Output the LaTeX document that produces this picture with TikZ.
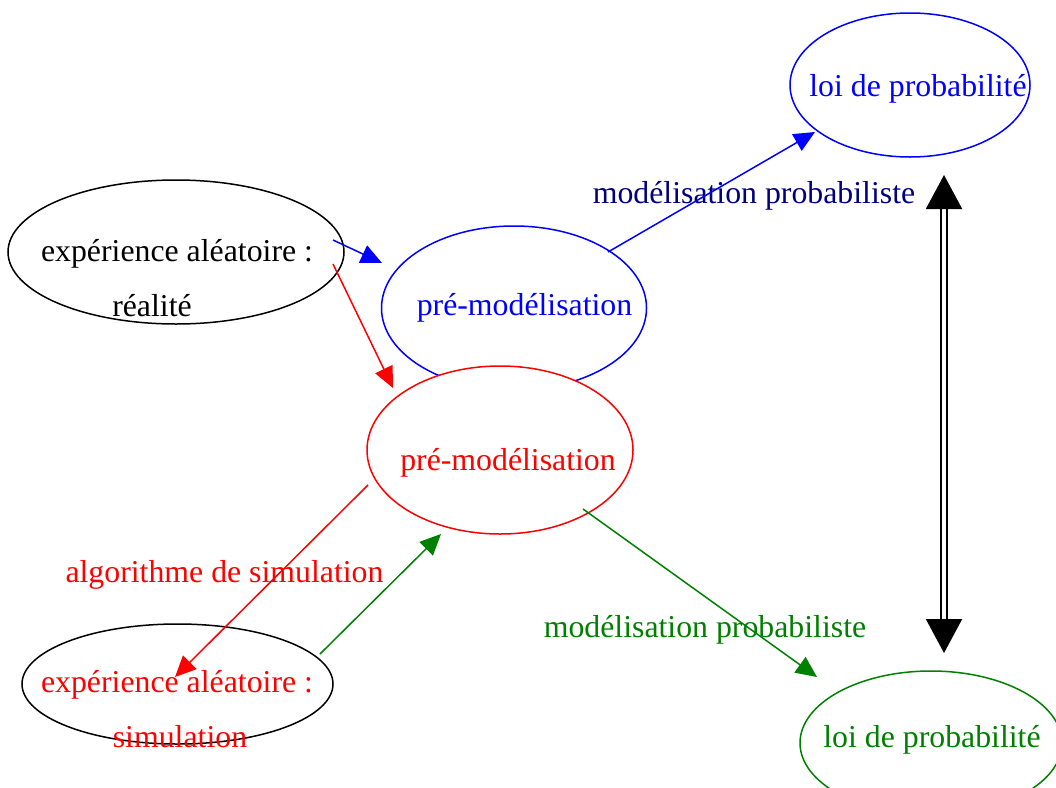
\documentclass[tikz,border=0pt]{standalone}
\usepackage{fontspec}
\setmainfont{Liberation Serif}
\usetikzlibrary{shapes.geometric,arrows.meta}
\definecolor{dgreen}{RGB}{0,128,0}
\definecolor{navyc}{RGB}{0,0,128}
\tikzset{
  oval/.style={draw, ellipse, line width=1.5pt, inner sep=0pt, outer sep=0pt, fill=white},
  lbl/.style={anchor=base, inner sep=0pt, font=\fontsize{31.8}{36}\selectfont},
  arr/.style={line width=1.5pt, -{Triangle[length=21pt,width=19pt]}},
  dbl/.style={double, double distance=4pt, line width=2pt, {Triangle[length=34pt,width=36pt]}-{Triangle[length=34pt,width=36pt]}}
}
\begin{document}
\begin{tikzpicture}[x=1pt,y=-1pt]
\useasboundingbox (0,0) rectangle (1056,787);
\clip (0,0) rectangle (1056,787);
% ellipses
\node[oval, draw=black, minimum width=336pt, minimum height=144pt] (real) at (176,252) {};
\node[oval, draw=blue, minimum width=265pt, minimum height=164pt] (preb) at (514,308) {};
\node[oval, draw=red, minimum width=266pt, minimum height=168pt] (prer) at (500,450) {};
\node[oval, draw=black, minimum width=311pt, minimum height=120pt] (sim) at (177.5,684) {};
\node[oval, draw=blue, minimum width=240pt, minimum height=144pt] (loib) at (910,85) {};
\node[oval, draw=dgreen, minimum width=262pt, minimum height=144pt] (loig) at (931,743) {};
% texts
\node[lbl, text=black] (treal1) at (177,261) {expérience aléatoire :};
\node[lbl, text=black] (treal2) at (152,316) {réalité};
\node[lbl, text=blue] (tpreb) at (524.5,315) {pré-modélisation};
\node[lbl, text=red] (tprer) at (508,470) {pré-modélisation};
\node[lbl, text=red] (tsim1) at (177,692) {expérience aléatoire :};
\node[lbl, text=red] (tsim2) at (180,747) {simulation};
\node[lbl, text=blue] (tloib) at (918,96) {loi de probabilité};
\node[lbl, text=dgreen] (tloig) at (932,747) {loi de probabilité};
\node[lbl, text=navyc] (lmodb) at (754,203) {modélisation probabiliste};
\node[lbl, text=red] (lalgo) at (224.5,582) {algorithme de simulation};
\node[lbl, text=dgreen] (lmodg) at (705,637) {modélisation probabiliste};
% connector ends
\coordinate (a1s) at (333,240); \coordinate (a1e) at (382,263);
\coordinate (a2s) at (333,264); \coordinate (a2e) at (393,388);
\coordinate (a3s) at (608,252); \coordinate (a3e) at (815,132);
\coordinate (a4s) at (368,485); \coordinate (a4e) at (175,677);
\coordinate (a5s) at (320,654); \coordinate (a5e) at (441,534);
\coordinate (a6s) at (583,509); \coordinate (a6e) at (817,677);
\coordinate (d1) at (944,175); \coordinate (d2) at (944,653);
% connectors
\draw[arr, blue] (a1s) -- (a1e);
\draw[arr, red] (a2s) -- (a2e);
\draw[arr, blue] (a3s) -- (a3e);
\draw[arr, red] (a4s) -- (a4e);
\draw[arr, dgreen] (a5s) -- (a5e);
\draw[arr, dgreen] (a6s) -- (a6e);
\draw[dbl] (d1) -- (d2);
\end{tikzpicture}
\end{document}
